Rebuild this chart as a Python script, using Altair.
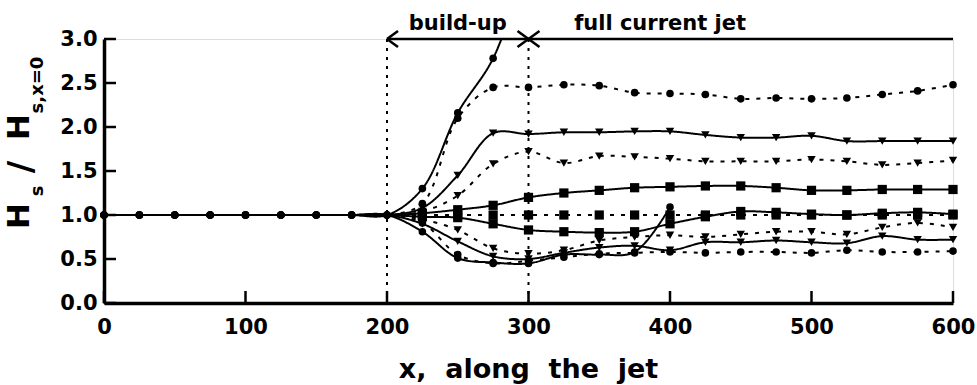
import altair as alt
import pandas as pd

# ---------------- data ----------------
x_upstream = [0, 25, 50, 75, 100, 125, 150, 175]
y_upstream = [1.0, 1.0, 1.0, 1.0, 1.0, 1.0, 1.0, 1.0]
x_jet = [200, 225, 250, 275, 300, 325, 350, 375, 400, 425, 450, 475, 500, 525, 550, 575, 600]

circle_solid_up = [1.0, 1.30, 2.16, 2.78, 3.90]
circle_dotted_up = [1.0, 1.13, 2.10, 2.45, 2.45, 2.48, 2.47, 2.39, 2.38, 2.37, 2.32, 2.33, 2.32, 2.33, 2.37, 2.41, 2.48]
tri_solid_up = [1.0, 1.08, 1.45, 1.93, 1.92, 1.94, 1.94, 1.95, 1.95, 1.91, 1.88, 1.88, 1.90, 1.84, 1.84, 1.84, 1.84]
tri_dotted_up = [1.0, 1.04, 1.22, 1.58, 1.72, 1.59, 1.67, 1.66, 1.64, 1.61, 1.61, 1.61, 1.63, 1.61, 1.57, 1.59, 1.62]
square_solid_up = [1.0, 1.02, 1.06, 1.11, 1.20, 1.25, 1.28, 1.31, 1.32, 1.33, 1.33, 1.31, 1.28, 1.28, 1.29, 1.29, 1.29]
square_dotted = [1.0, 1.0, 1.0, 1.0, 1.0, 1.0, 1.0, 1.0, 1.0, 1.0, 1.0, 1.0, 1.0, 1.0, 1.0, 1.0, 1.0]
square_solid_low = [1.0, 0.98, 0.97, 0.90, 0.83, 0.81, 0.80, 0.81, 0.90, 0.98, 1.04, 1.03, 1.01, 1.00, 1.02, 1.03, 1.01]
tri_dotted_low = [1.0, 0.95, 0.83, 0.62, 0.56, 0.60, 0.71, 0.75, 0.77, 0.75, 0.78, 0.81, 0.81, 0.78, 0.86, 0.91, 0.86]
tri_solid_low = [1.0, 0.90, 0.70, 0.53, 0.50, 0.57, 0.63, 0.65, 0.60, 0.69, 0.69, 0.71, 0.69, 0.68, 0.76, 0.72, 0.72]
circle_solid_low = [1.0, 0.81, 0.51, 0.46, 0.45, 0.55, 0.55, 0.58, 1.09]
circle_dotted_low = [1.0, 0.91, 0.55, 0.45, 0.48, 0.52, 0.56, 0.57, 0.58, 0.57, 0.58, 0.58, 0.57, 0.60, 0.58, 0.58, 0.59]

series_defs = [
    ("c_s_up", "circle", "solid", circle_solid_up),
    ("c_d_up", "circle", "dotted", circle_dotted_up),
    ("t_s_up", "triangle", "solid", tri_solid_up),
    ("t_d_up", "triangle", "dotted", tri_dotted_up),
    ("s_s_up", "square", "solid", square_solid_up),
    ("s_d", "square", "dotted", square_dotted),
    ("s_s_low", "square", "solid", square_solid_low),
    ("t_d_low", "triangle", "dotted", tri_dotted_low),
    ("t_s_low", "triangle", "solid", tri_solid_low),
    ("c_s_low", "circle", "solid", circle_solid_low),
    ("c_d_low", "circle", "dotted", circle_dotted_low),
]

x_tick_values = [0, 100, 200, 300, 400, 500, 600]
y_tick_values = [0.0, 0.5, 1.0, 1.5, 2.0, 2.5, 3.0]
zone_bounds = [200, 300, 600]
zone_labels = ["build-up", "full current jet"]
zone_label_x = [250, 393]

rows = []
for name, marker, style, vals in series_defs:
    xs_all = x_upstream + x_jet[:len(vals)]
    ys_all = y_upstream + vals
    for xv, yv in zip(xs_all, ys_all):
        rows.append({"series": name, "marker": marker, "style": style, "x": xv, "y": yv})
df = pd.DataFrame(rows)

# ---------------- layout ----------------
W, H = 849, 264
FONT = "DejaVu Sans"
X_MAX, Y_MAX = 600, 3.0
xsc = alt.Scale(domain=[0, X_MAX], nice=False, zero=False)
ysc = alt.Scale(domain=[0, Y_MAX], nice=False)
px_x = X_MAX / W      # data units per pixel (x)
px_y = Y_MAX / H      # data units per pixel (y)

x_axis = alt.Axis(values=x_tick_values, format="d", ticks=False, grid=False,
                  domainColor="black", domainWidth=3.5, labelColor="black",
                  labelFont=FONT, labelFontWeight="bold", labelFontSize=21,
                  labelPadding=13, title=None, labelFlush=False)
y_axis = alt.Axis(values=y_tick_values, format=".1f", ticks=False, grid=False,
                  domainColor="black", domainWidth=3.5, labelColor="black",
                  labelFont=FONT, labelFontWeight="bold", labelFontSize=21,
                  labelPadding=7, title=None, labelFlush=False)

base = alt.Chart(df)

lines = base.mark_line(interpolate="catmull-rom", clip=True, color="black", strokeWidth=2).encode(
    x=alt.X("x:Q", scale=xsc, axis=x_axis),
    y=alt.Y("y:Q", scale=ysc, axis=y_axis),
    detail="series:N",
    strokeDash=alt.StrokeDash("style:N", scale=alt.Scale(domain=["solid", "dotted"], range=[[1, 0], [4, 7]]), legend=None),
)

points = base.transform_filter(
    "datum.y <= 3.0 && (datum.x > 200 || datum.marker == 'circle')"
).mark_point(filled=True, opacity=1, color="black").encode(
    x=alt.X("x:Q", scale=xsc),
    y=alt.Y("y:Q", scale=ysc),
    shape=alt.Shape("marker:N", scale=alt.Scale(domain=["circle", "triangle", "square"],
                                                range=["circle", "triangle-down", "square"]), legend=None),
    size=alt.Size("marker:N", scale=alt.Scale(domain=["circle", "triangle", "square"], range=[58, 85, 55]), legend=None),
)

# zone dividers (dotted verticals)
div_df = pd.DataFrame({"x": zone_bounds[:2], "y0": [0, 0], "y1": [Y_MAX, Y_MAX]})
dividers = alt.Chart(div_df).mark_rule(color="black", strokeWidth=2, strokeDash=[3, 6]).encode(
    x=alt.X("x:Q", scale=xsc), y=alt.Y("y0:Q", scale=ysc), y2="y1:Q")

# arrows
hx, hy = 11 * px_x, 8 * px_y
seg = [(zone_bounds[0], Y_MAX, zone_bounds[2], Y_MAX)]
for b, d in [(zone_bounds[0], 1), (zone_bounds[1], -1), (zone_bounds[1], 1)]:
    seg.append((b, Y_MAX, b + d * hx, Y_MAX + hy))
    seg.append((b, Y_MAX, b + d * hx, Y_MAX - hy))
arr_df = pd.DataFrame(seg, columns=["x", "y", "x2", "y2"])
arrows = alt.Chart(arr_df).mark_rule(color="black", strokeWidth=2.5, clip=False).encode(
    x=alt.X("x:Q", scale=xsc), y=alt.Y("y:Q", scale=ysc), x2="x2:Q", y2="y2:Q")

lab_df = pd.DataFrame({"label": zone_labels, "x": zone_label_x})
zone_text = alt.Chart(lab_df).mark_text(font=FONT, fontWeight="bold", fontSize=21, baseline="alphabetic",
                                        align="center", color="black").encode(
    x=alt.X("x:Q", scale=xsc), y=alt.value(-9), text="label:N")

# inward ticks (segments from the axis line into the plot)
TICK_X_LEN, TICK_Y_LEN = 12, 12
xt_df = pd.DataFrame({"tx": x_tick_values})
xt_df["ty0"] = 0.0
xt_df["ty1"] = TICK_X_LEN * px_y
xticks = alt.Chart(xt_df).mark_rule(color="black", strokeWidth=2.5, opacity=1).encode(
    x=alt.X("tx:Q", scale=xsc), y=alt.Y("ty0:Q", scale=ysc), y2="ty1:Q")
yt_df = pd.DataFrame({"ty": y_tick_values})
yt_df["tx0"] = 0.0
yt_df["tx1"] = TICK_Y_LEN * px_x
yticks = alt.Chart(yt_df).mark_rule(color="black", strokeWidth=2.5, opacity=1).encode(
    y=alt.Y("ty:Q", scale=ysc), x=alt.X("tx0:Q", scale=xsc), x2="tx1:Q")

# axis titles
x_title = alt.Chart(pd.DataFrame({"t": ["x,\u00a0\u00a0along\u00a0\u00a0the\u00a0\u00a0jet"]})).mark_text(
    font=FONT, fontWeight="bold", fontSize=27, baseline="alphabetic", align="center", color="black"
).encode(x=alt.value(W / 2), y=alt.value(339), text="t:N")

ytitle_parts = pd.DataFrame({
    "t": ["H", "s", "/", "H", "s,x=0"],
    "px": [29 - 104, 43 - 104, 32 - 104, 29 - 104, 43 - 104],
    "py": [216 - 39, 191 - 39, 167 - 39, 127 - 39, 85 - 39],
    "fs": [31, 18, 34, 31, 18],
})
ytitle_layers = []
for _, r in ytitle_parts.iterrows():
    ytitle_layers.append(
        alt.Chart(pd.DataFrame({"t": [r["t"]]})).mark_text(
            font=FONT, fontWeight="bold", fontSize=float(r["fs"]), angle=270,
            align="center", baseline="alphabetic", color="black"
        ).encode(x=alt.value(float(r["px"])), y=alt.value(float(r["py"])), text="t:N")
    )

chart = alt.layer(
    dividers, lines, points, arrows, zone_text, x_title, *ytitle_layers, xticks, yticks
).properties(
    width=W, height=H,
    autosize=alt.AutoSizeParams(type="none"),
    padding={"left": 104, "top": 39, "right": 24, "bottom": 82},
).configure_view(stroke=None).configure(background="white")

chart.save("out.html", embed_options={"renderer": "svg", "actions": False})
